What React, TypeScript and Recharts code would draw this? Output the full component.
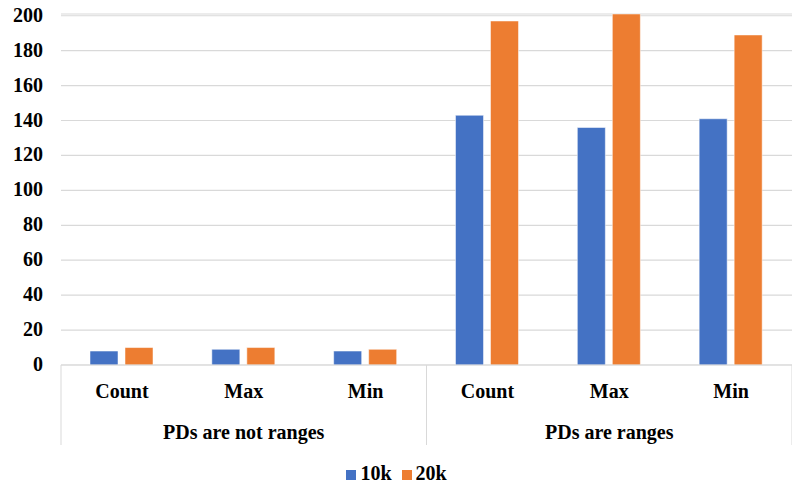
import React from "react";
import { BarChart, Bar, XAxis, YAxis, CartesianGrid, Legend } from "recharts";

const categories = ["Count", "Max", "Min", "Count", "Max", "Min"];
const groups = [
  "PDs are not ranges",
  "PDs are not ranges",
  "PDs are not ranges",
  "PDs are ranges",
  "PDs are ranges",
  "PDs are ranges",
];
const series10k = [8, 9, 8, 143, 136, 141];
const series20k = [10, 10, 9, 197, 201, 189];
const yTicks = [0, 20, 40, 60, 80, 100, 120, 140, 160, 180, 200];

const data = categories.map((c, i) => ({
  cat: c,
  group: groups[i],
  k10: series10k[i],
  k20: series20k[i],
}));

const FONT = "Liberation Serif";
const GRID = "#d9d9d9";
const css = `
#root .serif-chart, #root .serif-chart *, #root .serif-chart text, #root .serif-chart span {
  font-family: "Liberation Serif", "Times New Roman", serif !important;
  font-weight: 700 !important;
}
`;

const XTick = (props: any) => {
  const { x, y, payload, index } = props;
  const half = payload.offset || 0;
  const i = payload.index ?? index;
  const isGroupStart = i === 0 || groups[i] !== groups[i - 1];
  const isGroupMiddle =
    i > 0 && i < groups.length - 1 && groups[i - 1] === groups[i] && groups[i + 1] === groups[i];
  const isLast = i === groups.length - 1;
  return (
    <g>
      <text x={x} y={y + 33} textAnchor="middle" fontFamily={FONT} fontWeight={700} fontSize={20} fill="#000">
        {payload.value}
      </text>
      {isGroupStart && (
        <line x1={x - half} x2={x - half} y1={y} y2={y + 80} stroke={GRID} strokeWidth={1} />
      )}
      {isLast && (
        <line x1={x + half} x2={x + half} y1={y} y2={y + 80} stroke={GRID} strokeWidth={1} />
      )}
      {isGroupMiddle && (
        <text x={x} y={y + 74} textAnchor="middle" fontFamily={FONT} fontWeight={700} fontSize={20} fill="#000">
          {groups[i]}
        </text>
      )}
    </g>
  );
};

const YTick = (props: any) => {
  const { x, y, payload } = props;
  return (
    <text x={x} y={y} dy={6} textAnchor="end" fontFamily={FONT} fontWeight={700} fontSize={20} fill="#000">
      {payload.value}
    </text>
  );
};

export default function App() {
  return (
    <div className="serif-chart" style={{ position: "absolute", left: 0, top: 0, fontFamily: FONT }}>
      <style>{css}</style>
      <BarChart
        width={792}
        height={488}
        data={data}
        margin={{ top: 14, right: 0, left: 11, bottom: 0 }}
        barSize={28}
        barGap={7}
      >
        <CartesianGrid horizontal vertical={false} stroke={GRID} strokeWidth={1.2} />
        <XAxis
          dataKey="cat"
          height={97}
          tickLine={false}
          tickSize={0}
          tickMargin={0}
          axisLine={{ stroke: GRID }}
          interval={0}
          tick={<XTick />}
        />
        <YAxis
          width={50}
          domain={[0, 200]}
          ticks={yTicks}
          interval={0}
          axisLine={false}
          tickLine={false}
          tickMargin={12}
          tick={<YTick />}
        />
        <Legend
          verticalAlign="bottom"
          height={26}
          iconType="square"
          iconSize={10}
          wrapperStyle={{ fontFamily: FONT, fontWeight: 700, fontSize: 20 }}
          formatter={(value: string) => <span style={{ color: "#000", fontFamily: FONT }}>{value}</span>}
        />
        <Bar dataKey="k10" name="10k" fill="#4472C4" stroke="#ffffff" strokeWidth={0.5} isAnimationActive={false} />
        <Bar dataKey="k20" name="20k" fill="#ED7D31" stroke="#ffffff" strokeWidth={0.5} isAnimationActive={false} />
      </BarChart>
    </div>
  );
}
